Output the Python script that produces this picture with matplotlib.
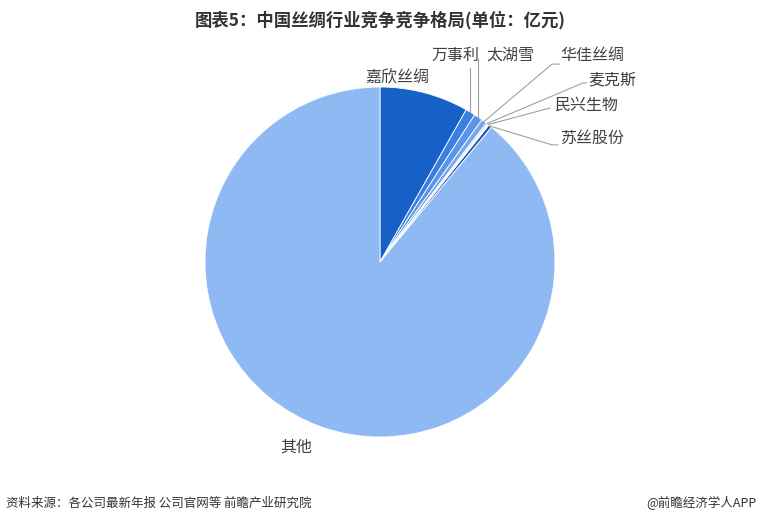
import numpy as np
import matplotlib.pyplot as plt

plt.rcParams['font.family'] = ['Noto Sans CJK SC', 'DejaVu Sans']

# 中国丝绸行业竞争格局(单位：亿元) - values
names = ['嘉欣丝绸', '万事利', '太湖雪', '华佳丝绸', '麦克斯', '民兴生物', '苏丝股份', '其他']
vals = [8.2, 0.9, 0.8, 0.5, 0.15, 0.15, 0.3, 89.0]
colors = ['#1660c8', '#3b7fe0', '#5a95ea', '#74a7ef', '#a6c8f5', '#ffffff', '#1a56b4', '#8fb9f3']

fig = plt.figure(figsize=(7.6, 5.24), dpi=100)
ax = fig.add_axes([205 / 760, 87 / 524, 350 / 760, 350 / 524])
wedges, _ = ax.pie(vals, colors=colors, startangle=90, counterclock=False,
                   wedgeprops=dict(linewidth=0.6, edgecolor='white'))
ax.set_xlim(-1, 1)
ax.set_ylim(-1, 1)
ax.set_aspect('equal')
ax.axis('off')

lc = '#a0a0a0'
tc = '#404040'
fs = 11.5

def edge(w):
    a = np.deg2rad((w.theta1 + w.theta2) / 2)
    return np.cos(a), np.sin(a)

# plain labels
ax.text(0.10, 1.05, names[0], ha='center', va='center', fontsize=fs, color=tc)
ax.text(-0.48, -1.06, names[7], ha='center', va='center', fontsize=fs, color=tc)

# leader lines: label index -> (line points after slice edge, text x, text y, ha)
leaders = {
    1: ('v', 1.11, 0.43, 1.18, 'center'),
    2: ('v', 1.16, 0.745, 1.18, 'center'),
    3: ([(0.983, 1.131), (1.025, 1.131)], None, 1.03, 1.18, 'left'),
    4: ([(1.16, 1.023), (1.18, 1.023)], None, 1.19, 1.04, 'left'),
    5: ([(0.971, 0.88)], None, 1.00, 0.897, 'left'),
    6: ([(0.983, 0.669), (1.017, 0.669)], None, 1.03, 0.709, 'left'),
}
for i, (pts, top, tx, ty, ha) in leaders.items():
    x0, y0 = edge(wedges[i])
    if pts == 'v':
        xs, ys = [x0, x0], [y0, top]
    else:
        xs = [x0] + [p[0] for p in pts]
        ys = [y0] + [p[1] for p in pts]
    ax.plot(xs, ys, color=lc, lw=0.8, clip_on=False)
    ax.text(tx, ty, names[i], ha=ha, va='center', fontsize=fs, color=tc)

fig.text(0.5, 0.962, '图表5：中国丝绸行业竞争竞争格局(单位：亿元)', ha='center', va='center',
         fontsize=12.5, fontweight='bold', color='#333333')
fig.text(0.008, 0.04, '资料来源：各公司最新年报 公司官网等 前瞻产业研究院', ha='left', va='center',
         fontsize=9, color='#333333')
fig.text(0.995, 0.04, '@前瞻经济学人APP', ha='right', va='center', fontsize=9, color='#333333')

fig.savefig('out.png', dpi=100)
